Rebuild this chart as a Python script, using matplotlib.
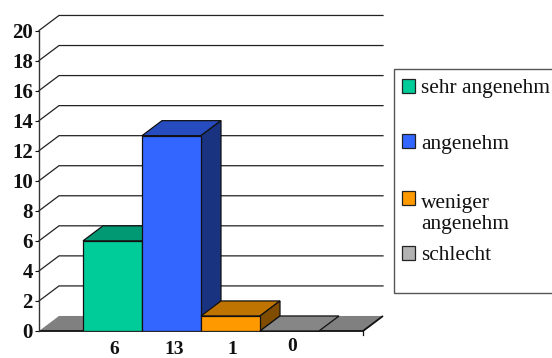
import matplotlib
matplotlib.use("Agg")
import matplotlib.pyplot as plt
from matplotlib.patches import Rectangle

# Survey responses
categories = ["sehr angenehm", "angenehm", "weniger\nangenehm", "schlecht"]
values = [6, 13, 1, 0]
y_ticks = list(range(0, 21, 2))

# Front, top and side shades per series
front_colors = ["#00CC99", "#3366FF", "#FF9900", "#B2B2B2"]
top_colors = ["#009973", "#264CBF", "#BF7300", "#868686"]
side_colors = ["#006B50", "#1A3380", "#804D00", "#5A5A5A"]
swatch_y = [86, 141, 198, 253]
legend_text_y = [89, 145, 214, 256]
label_offsets = [(1.2, -13.4), (2.2, -13.4), (1.2, -13.4), (2.0, -11.0)]

plt.rcParams["font.family"] = ["Liberation Serif", "DejaVu Serif"]

W, H = 552, 358
fig = plt.figure(figsize=(W / 100, H / 100), dpi=100, facecolor="white")
ax = fig.add_axes([39 / W, (H - 331) / H, 324 / W, 300.5 / H])

BAR = 1.0
X_MAX = 324 / 59
START = 44 / 59
DX, DY = 20 / 59, 1.0
INK = "#111111"

ax.set_xlim(0, X_MAX)
ax.set_ylim(0, 20)
ax.patch.set_visible(False)

# Floor of the 3D box
ax.fill([0, DX, X_MAX + DX, X_MAX], [0, DY, DY, 0], color="#808080", lw=0, zorder=1, clip_on=False)
ax.plot([0, X_MAX, X_MAX + DX], [0, 0, DY], color=INK, lw=1.3, zorder=1.5, clip_on=False, solid_capstyle="butt")

# Wall gridlines with their diagonal run to the axis
for v in y_ticks[1:]:
    ax.plot([0, DX, X_MAX + DX], [v, v + DY, v + DY], color="#222222", lw=0.9, zorder=1.2, clip_on=False)

# Extruded bars, left to right so each one overlaps the previous side face
for i, v in enumerate(values):
    x0 = START + i * BAR
    x1 = x0 + BAR
    z = 2 + i
    ax.fill([x0, x0 + DX, x1 + DX, x1], [v, v + DY, v + DY, v], facecolor=top_colors[i],
            edgecolor=INK, lw=0.9, zorder=z, clip_on=False)
    if v > 0:
        ax.fill([x1, x1 + DX, x1 + DX, x1], [0, DY, v + DY, v], facecolor=side_colors[i],
                edgecolor=INK, lw=0.9, zorder=z, clip_on=False)
        ax.bar(x0, v, width=BAR, align="edge", color=front_colors[i], edgecolor=INK, lw=0.9, zorder=z + 0.5)
    ax.annotate(str(v), (x0 + BAR / 2, 0), xytext=label_offsets[i], textcoords="offset points",
                ha="center", va="center", fontsize=14, fontweight="bold", color="#111111",
                annotation_clip=False)

# Small tick closing the floor's front edge
ax.plot([X_MAX, X_MAX], [0, -0.27], color=INK, lw=0.9, clip_on=False)

for name in ["top", "right", "bottom"]:
    ax.spines[name].set_visible(False)
ax.spines["left"].set_color("#333333")
ax.spines["left"].set_linewidth(1.0)
ax.set_xticks([])
ax.set_yticks(y_ticks)
ax.tick_params(axis="y", length=3, width=0.8, color=INK, pad=1.5)
for lab in ax.get_yticklabels():
    lab.set_fontsize(15)
    lab.set_fontweight("bold")
    lab.set_color("#111111")

# Legend panel in pixel coordinates; it runs off the right-hand side
lg = fig.add_axes([0, 0, 1, 1])
lg.set_xlim(0, W)
lg.set_ylim(H, 0)
lg.axis("off")
lg.add_patch(Rectangle((394, 69), 170, 224, facecolor="white", edgecolor="#555555", lw=1.0))
for name, col, sy, ty in zip(categories, front_colors, swatch_y, legend_text_y):
    lg.add_patch(Rectangle((401.5, sy - 7), 13.5, 14, facecolor=col, edgecolor="#222222", lw=0.9))
    lg.text(421, ty, name, fontsize=15.4, color="#111111", ha="left", va="center", linespacing=1.1)

fig.savefig("out.png", dpi=100, facecolor="white")
